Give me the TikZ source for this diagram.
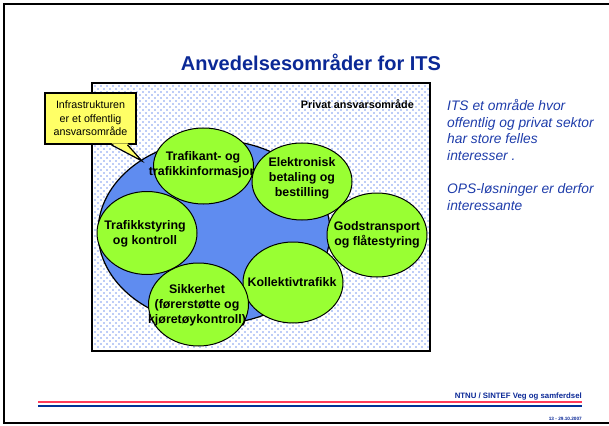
\documentclass[tikz,border=0pt]{standalone}
\usepackage{fontspec}
\setmainfont{Liberation Sans}
\usetikzlibrary{shapes.geometric,positioning}

\definecolor{tittelblaa}{RGB}{10,40,150}
\definecolor{tekstblaa}{RGB}{30,60,170}
\definecolor{gronn}{RGB}{153,255,51}
\definecolor{feltblaa}{RGB}{95,140,240}
\definecolor{prikkblaa}{RGB}{125,155,240}
\definecolor{gul}{RGB}{255,255,102}
\definecolor{strekrod}{RGB}{255,60,90}
\definecolor{strekblaa}{RGB}{0,50,150}

\tikzset{
    %Define style for the green bubbles
    boble/.style={
           ellipse,
           draw=black, line width=1pt,
           fill=gronn,
           inner sep=0pt,
           minimum width=100pt},
    %Define style for bubble text
    bobletekst/.style={
           align=center,
           inner sep=0pt,
           font=\fontsize{12.4}{15}\selectfont\bfseries},
    % Define style for the callout
    lapp/.style={
           rectangle,
           draw=black, line width=1.8pt,
           fill=gul,
           minimum width=91pt,
           minimum height=51pt,
           align=center,
           font=\fontsize{10.7}{13.5}\selectfont},
    % one row of dots
    prikkrad/.style={
           prikkblaa,
           line width=1.8pt,
           line cap=round,
           dash pattern=on 0pt off 6pt}
}

\begin{document}
\begin{tikzpicture}[x=1pt,y=-1pt]
\useasboundingbox (0,0) rectangle (609,425);
\draw[line width=2pt] (612,4) -- (4,4) -- (4,423) -- (612,423);

\node[font=\fontsize{20}{24}\selectfont\bfseries, text=tittelblaa] (tittel) at (311,62) {Anvedelsesområder for ITS};

% private area with staggered dots
\node[rectangle, fill=white, minimum width=338pt, minimum height=268pt] (privat) at (261,217) {};
\foreach \y in {86,92,...,349} \draw[prikkrad] (95,\y) -- (428,\y);
\foreach \y in {89,95,...,349} \draw[prikkrad] (98,\y) -- (428,\y);
\draw[line width=1.8pt] (privat.north west) rectangle (privat.south east);
\node[font=\fontsize{10.8}{13}\selectfont\bfseries, anchor=east, inner sep=0pt] (privattekst) at (414,104) {Privat ansvarsområde};

% public area
\node[ellipse, draw=black, line width=1.2pt, fill=feltblaa, inner sep=0pt,
  minimum width=232pt, minimum height=184pt] (offentlig) at (214,232) {};

% callout with tail
\node[lapp] (infra) at (90.5,118.5) {Infrastrukturen\\er et offentlig\\ansvarsområde};
\coordinate (spiss) at (142,161);
\fill[gul] ([xshift=21pt,yshift=1.5pt]infra.south) -- (spiss) -- ([xshift=37pt,yshift=1.5pt]infra.south) -- cycle;
\draw[line width=1.2pt] ([xshift=21pt]infra.south) -- (spiss) -- ([xshift=37pt]infra.south);

% bubbles
\node[boble, minimum height=76pt] (info) at (203.5,166) {};
\node[bobletekst] (infotekst) at (203,165) {Trafikant- og\\trafikkinformasjon};
\node[boble, minimum height=77pt] (betaling) at (302,181.5) {};
\node[bobletekst] (betalingtekst) at (302,178) {Elektronisk\\betaling og\\bestilling};
\node[boble, minimum height=83pt] (styring) at (147,233) {};
\node[bobletekst] (styringtekst) at (145,234) {Trafikkstyring\\og kontroll};
\node[boble, minimum height=84pt] (gods) at (377,235) {};
\node[bobletekst] (godstekst) at (377,234.5) {Godstransport\\og flåtestyring};
\node[boble, minimum height=81pt] (kollektiv) at (293,282.5) {};
\node[bobletekst] (kollektivtekst) at (292,282) {Kollektivtrafikk};
\node[boble, minimum height=83pt] (sikkerhet) at (198.5,304.5) {};
\node[bobletekst] (sikkerhettekst) at (197,305) {Sikkerhet\\(førerstøtte og\\kjøretøykontroll)};

% comment on the right
\node[anchor=north west, align=left, inner sep=0pt, text=tekstblaa,
  font=\fontsize{13.8}{16.7}\selectfont\itshape] (kommentar) at (447,99)
  {ITS et område hvor\\offentlig og privat sektor\\har store felles\\interesser .\\[16.7pt]OPS-løsninger er derfor\\interessante};

% footer
\draw[strekrod, line width=1.7pt] (38,402) -- (582,402);
\draw[strekblaa, line width=2.7pt] (38,406) -- (582,406);
\node[anchor=east, inner sep=0pt, text=tittelblaa, font=\fontsize{7.8}{9}\selectfont\bfseries] (bunntekst) at (582,396) {NTNU / SINTEF Veg og samferdsel};
\node[anchor=east, inner sep=0pt, text=tittelblaa, font=\fontsize{4.7}{6}\selectfont\bfseries] (dato) at (582,419) {13 - 29.10.2007};
\end{tikzpicture}
\end{document}
